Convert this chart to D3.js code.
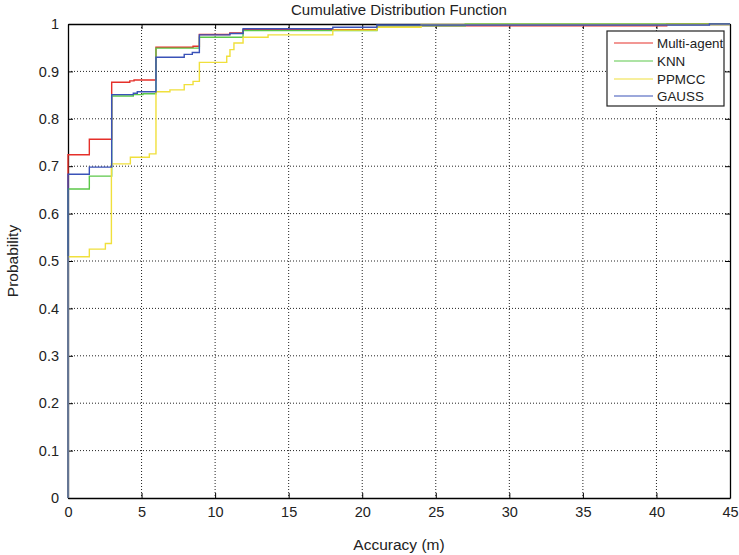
<!DOCTYPE html>
<html><head><meta charset="utf-8">
<script src="https://cdn.jsdelivr.net/npm/d3@7"></script>
<style>body{margin:0;background:#fff;}svg{display:block;font-family:"Liberation Sans",Arial,sans-serif;}</style>
</head><body><svg id="c" width="739" height="555"></svg>
<script>
const seriesNames = ["Multi-agent", "KNN", "PPMCC", "GAUSS"];
const seriesColors = ["#e5302a", "#5cc84a", "#f0e03c", "#3a52b8"];
const multiX = [0, 0, 1.45, 2.97, 4.2, 4.49, 5.98, 8.5, 8.93, 11.0, 11.9, 21, 40.7, 45];
const multiY = [0, 0.724, 0.757, 0.877, 0.880, 0.882, 0.951, 0.953, 0.978, 0.981, 0.988, 0.996, 1, 1];
const knnX = [0, 0, 1.45, 2.97, 4.44, 5.1, 5.98, 8.93, 11.9, 21, 27, 45];
const knnY = [0, 0.652, 0.679, 0.848, 0.851, 0.853, 0.949, 0.972, 0.986, 0.996, 1, 1];
const ppmccX = [0, 0, 1.45, 2.54, 2.95, 4.24, 5.53, 5.98, 6.93, 7.9, 8.5, 8.93, 10.79, 11.01, 11.28, 11.9, 13.6, 18, 21, 24, 45];
const ppmccY = [0, 0.509, 0.525, 0.537, 0.705, 0.719, 0.726, 0.857, 0.861, 0.872, 0.879, 0.919, 0.932, 0.946, 0.960, 0.972, 0.977, 0.987, 0.993, 0.999, 0.999];
const gaussX = [0, 0, 1.45, 2.97, 4.44, 4.71, 5.98, 7.9, 8.45, 8.93, 11.0, 11.9, 18, 21, 43.6, 45];
const gaussY = [0, 0.683, 0.698, 0.851, 0.854, 0.857, 0.930, 0.936, 0.940, 0.977, 0.980, 0.990, 0.993, 0.998, 1, 1];
const xTicks = [0, 5, 10, 15, 20, 25, 30, 35, 40, 45];
const yTicks = [0, 0.1, 0.2, 0.3, 0.4, 0.5, 0.6, 0.7, 0.8, 0.9, 1];

const seriesX = [multiX, knnX, ppmccX, gaussX];
const seriesY = [multiY, knnY, ppmccY, gaussY];

const L = 68, R = 730, T = 24, B = 498;
const svg = d3.select("#c");
const x = d3.scaleLinear().domain([0, 45]).range([L, R]);
const y = d3.scaleLinear().domain([0, 1]).range([B, T]);

// grid
const g = svg.append("g");
g.selectAll("line.vx").data(xTicks.slice(1, -1)).join("line")
  .attr("x1", d => x(d)).attr("x2", d => x(d)).attr("y1", T).attr("y2", B)
  .attr("stroke", "#222").attr("stroke-width", 1).attr("stroke-dasharray", "1,2");
g.selectAll("line.hy").data(yTicks.slice(1, -1)).join("line")
  .attr("y1", d => y(d)).attr("y2", d => y(d)).attr("x1", L).attr("x2", R)
  .attr("stroke", "#222").attr("stroke-width", 1).attr("stroke-dasharray", "1,2");

// axes
svg.append("g").attr("transform", `translate(0,${B})`)
  .call(d3.axisBottom(x).tickValues(xTicks).tickSizeInner(-5).tickSizeOuter(0).tickPadding(9));
svg.append("g").attr("transform", `translate(${L},0)`)
  .call(d3.axisLeft(y).tickValues(yTicks).tickFormat(d => d3.format("~g")(d)).tickSizeInner(-5).tickSizeOuter(0).tickPadding(9));
svg.append("g").attr("transform", `translate(0,${T})`)
  .call(d3.axisTop(x).tickValues(xTicks).tickSizeInner(-5).tickSizeOuter(0).tickFormat(""));
svg.append("g").attr("transform", `translate(${R},0)`)
  .call(d3.axisRight(y).tickValues(yTicks).tickSizeInner(-5).tickSizeOuter(0).tickFormat(""));
svg.selectAll(".domain").attr("stroke", "#000").attr("stroke-width", 1.3);
svg.selectAll(".tick line").attr("stroke", "#000");
svg.selectAll(".tick text").attr("font-size", 14.5).attr("fill", "#222")
  .attr("font-family", "Liberation Sans, Arial, sans-serif");

// series (drawn over the axes, as in the reference)
const line = d3.line().x(d => x(d[0])).y(d => y(d[1])).curve(d3.curveStepAfter);
seriesX.forEach((xs, i) => {
  const pts = xs.map((v, j) => [v, seriesY[i][j]]);
  svg.append("path").datum(pts).attr("d", line)
    .attr("fill", "none").attr("stroke", seriesColors[i]).attr("stroke-width", 1.4);
});

// titles
svg.append("text").attr("x", 399).attr("y", 15).attr("text-anchor", "middle")
  .attr("font-size", 15).attr("fill", "#222").text("Cumulative Distribution Function");
svg.append("text").attr("x", 399).attr("y", 550).attr("text-anchor", "middle")
  .attr("font-size", 15.5).attr("fill", "#222").text("Accuracy (m)");
svg.append("text").attr("transform", `translate(18,${(T + B) / 2}) rotate(-90)`).attr("text-anchor", "middle")
  .attr("font-size", 15.5).attr("fill", "#222").text("Probability");

// legend
const lg = svg.append("g");
lg.append("rect").attr("x", 607).attr("y", 31).attr("width", 117).attr("height", 75)
  .attr("fill", "#fff").attr("stroke", "#222").attr("stroke-width", 1.2);
const ly = [43, 61, 79, 96];
seriesNames.forEach((n, i) => {
  lg.append("line").attr("x1", 614).attr("x2", 653).attr("y1", ly[i]).attr("y2", ly[i])
    .attr("stroke", seriesColors[i]).attr("stroke-width", 1.2);
  lg.append("text").attr("x", 657).attr("y", ly[i] + 5).attr("font-size", 13.4).attr("fill", "#222").text(n);
});
</script></body></html>
